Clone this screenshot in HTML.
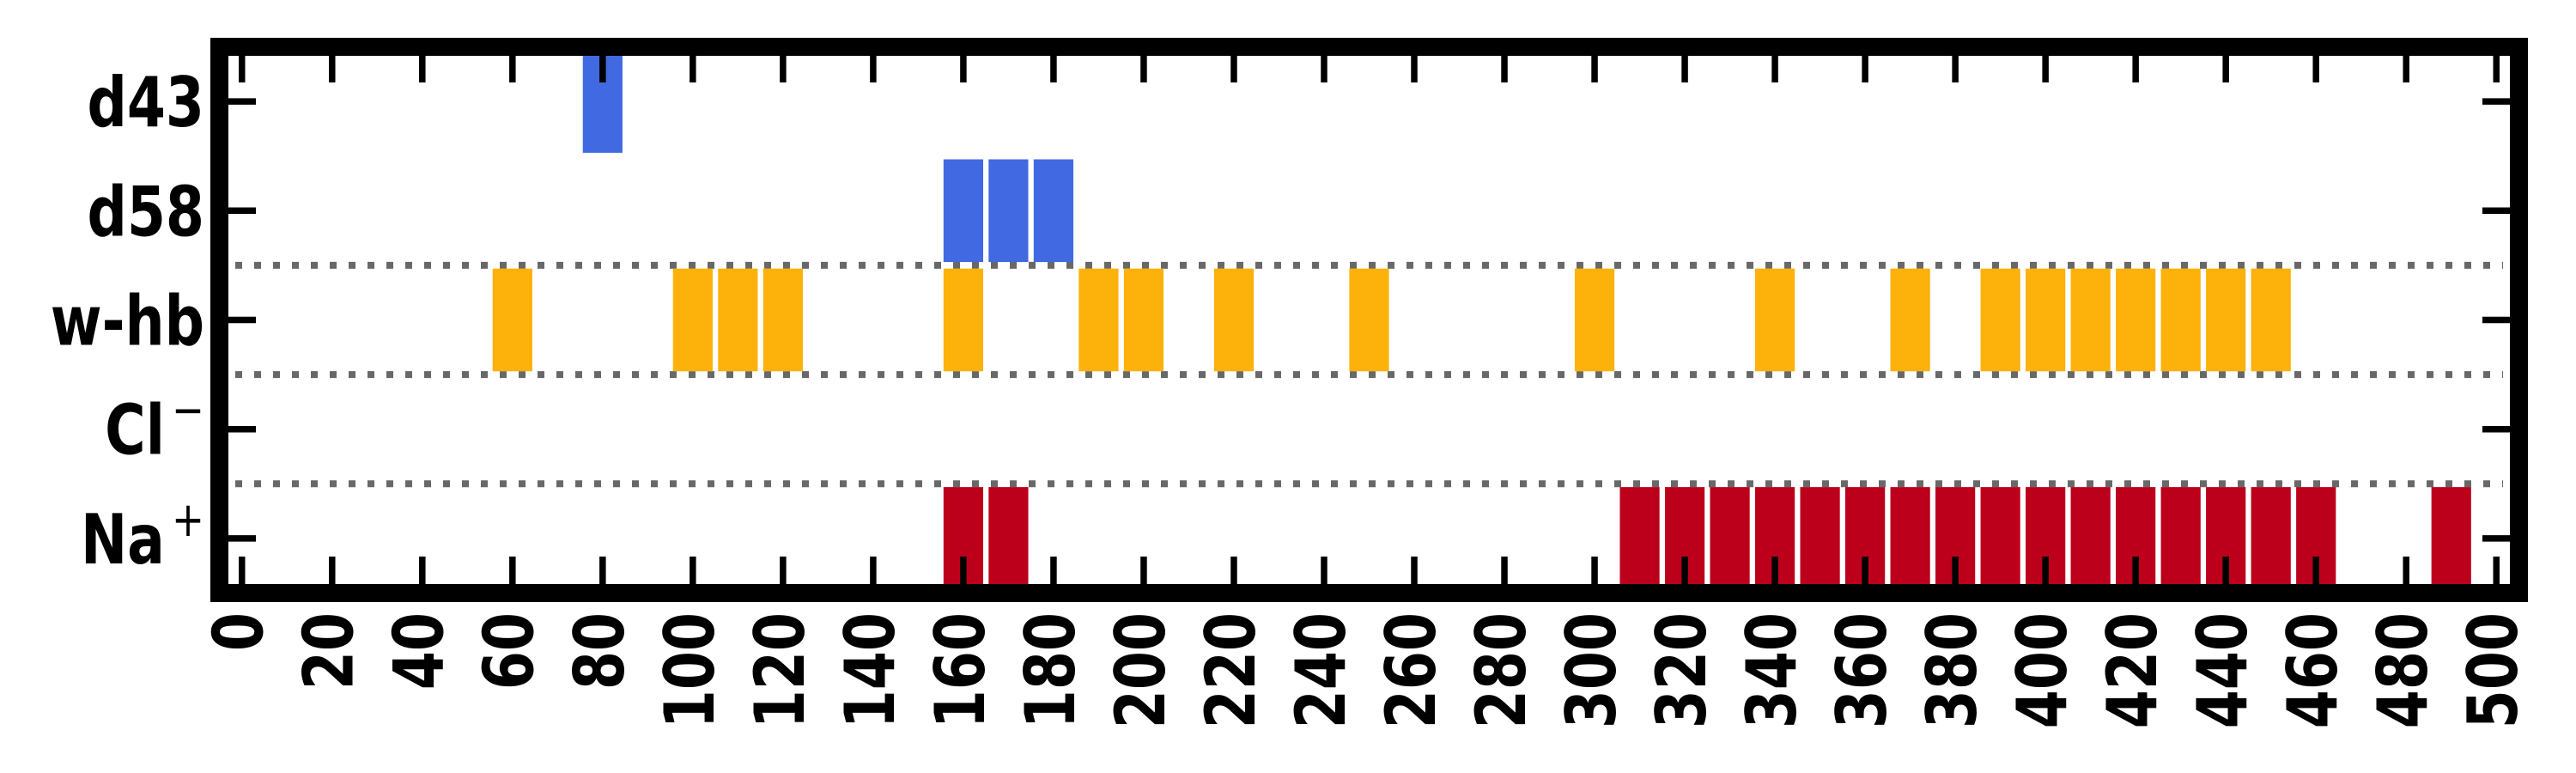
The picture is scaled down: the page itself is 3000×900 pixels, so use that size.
<!DOCTYPE html>
<html><head><meta charset="utf-8"><style>
html,body{margin:0;padding:0;background:#fff;}
svg{display:block;}
text{font-family:"DejaVu Sans","Liberation Sans",sans-serif;font-weight:bold;fill:#000;}
</style></head>
<body>
<svg id="chart" xmlns="http://www.w3.org/2000/svg" width="3000" height="900" viewBox="0 0 3000 900">
<defs><clipPath id="plotclip"><rect x="266" y="65" width="2657" height="615"/></clipPath></defs>
<rect x="0" y="0" width="3000" height="900" fill="#fff"/>
<g id="grid"></g>
<g id="bars" clip-path="url(#plotclip)"></g>
<g id="ticks"></g>
<rect x="255.5" y="54.5" width="2678" height="636" fill="none" stroke="#000" stroke-width="21"/>
<g id="ylabels"></g>
<g id="xlabels"></g>
</svg>
<script>
const categories = ["d43", "d58", "w-hb", "Cl", "Na"];
const d43Values = [80];
const d58Values = [160, 170, 180];
const whbValues = [60, 100, 110, 120, 160, 190, 200, 220, 250, 300, 340, 370, 390, 400, 410, 420, 430, 440, 450];
const clValues = [];
const naValues = [160, 170, 310, 320, 330, 340, 350, 360, 370, 380, 390, 400, 410, 420, 430, 440, 450, 460, 490];
const xTickLabels = [0, 20, 40, 60, 80, 100, 120, 140, 160, 180, 200, 220, 240, 260, 280, 300, 320, 340, 360, 380, 400, 420, 440, 460, 480, 500];
const separators = [1.5, 2.5, 3.5];

const NS = "http://www.w3.org/2000/svg";
const X0 = 255.5, X1 = 2933.5, Y0 = 54.5, Y1 = 690.5;
const xmin = -5, xmax = 505, ymin = -0.5, ymax = 4.5;
const SQ = 0.81;
function xs(v){ return X0 + (v - xmin) / (xmax - xmin) * (X1 - X0); }
function ys(i){ return Y0 + (i - ymin) / (ymax - ymin) * (Y1 - Y0); }
function mk(tag, attrs, parent){
  const e = document.createElementNS(NS, tag);
  for (const k in attrs) e.setAttribute(k, attrs[k]);
  parent.appendChild(e);
  return e;
}
const barW = 8.8, barH = 0.94;
const series = [
  {vals: d43Values, color: "#4169E1", row: 0, name: "d43"},
  {vals: d58Values, color: "#4169E1", row: 1, name: "d58"},
  {vals: whbValues, color: "#FDB10B", row: 2, name: "w-hb"},
  {vals: clValues, color: "#2E8B57", row: 3, name: "cl"},
  {vals: naValues, color: "#BC001C", row: 4, name: "na"}
];
const gBars = document.getElementById("bars");
series.forEach(s => {
  s.vals.forEach(v => {
    const r = mk("rect", {x: xs(v - barW/2), y: ys(s.row - barH/2), width: xs(v + barW/2) - xs(v - barW/2), height: ys(s.row + barH/2) - ys(s.row - barH/2), fill: s.color}, gBars);
    
    
  });
});
const gGrid = document.getElementById("grid");
separators.forEach(sv => {
  const l = mk("line", {x1: 274, x2: 2915, y1: ys(sv), y2: ys(sv), stroke: "#686868", "stroke-width": 8, "stroke-dasharray": "8 14"}, gGrid);
  
  
});
const gT = document.getElementById("ticks");
const gX = document.getElementById("xlabels");
xTickLabels.forEach(v => {
  const x = xs(v);
  const t1 = mk("line", {x1: x, x2: x, y1: 65, y2: 96, stroke: "#000", "stroke-width": 7.5}, gT);
  
  
  const t2 = mk("line", {x1: x, x2: x, y1: 648, y2: 680, stroke: "#000", "stroke-width": 7.5}, gT);
  
  
  const tx = mk("text", {x: 0, y: 0, "font-size": 80, "text-anchor": "end", "dominant-baseline": "central", transform: "translate(" + (x - 3) + ",713) rotate(-90) scale(" + SQ + ",1)"}, gX);
  tx.textContent = String(v);
  
  
});
const gY = document.getElementById("ylabels");
categories.forEach((c, i) => {
  const y = ys(i);
  const t1 = mk("line", {x1: 266, x2: 298, y1: y, y2: y, stroke: "#000", "stroke-width": 7.5}, gT);
  
  
  const t2 = mk("line", {x1: 2891, x2: 2923, y1: y, y2: y, stroke: "#000", "stroke-width": 7.5}, gT);
  
  
  const tx = mk("text", {x: 0, y: 0, "font-size": 80, "text-anchor": "end", transform: "translate(238," + (y + 29) + ") scale(" + SQ + ",1)"}, gY);
  if (c === "Cl" || c === "Na") {
    const base = document.createElementNS(NS, "tspan");
    base.textContent = c;
    tx.appendChild(base);
    const sup = document.createElementNS(NS, "tspan");
    sup.setAttribute("font-size", "56");
    sup.setAttribute("dx", "10");
    sup.setAttribute("dy", "-32");
    sup.setAttribute("font-weight", "normal");
    sup.textContent = c === "Cl" ? "\u2212" : "+";
    tx.appendChild(sup);
  } else {
    tx.textContent = c;
  }
  
  
});
</script>
</body></html>
